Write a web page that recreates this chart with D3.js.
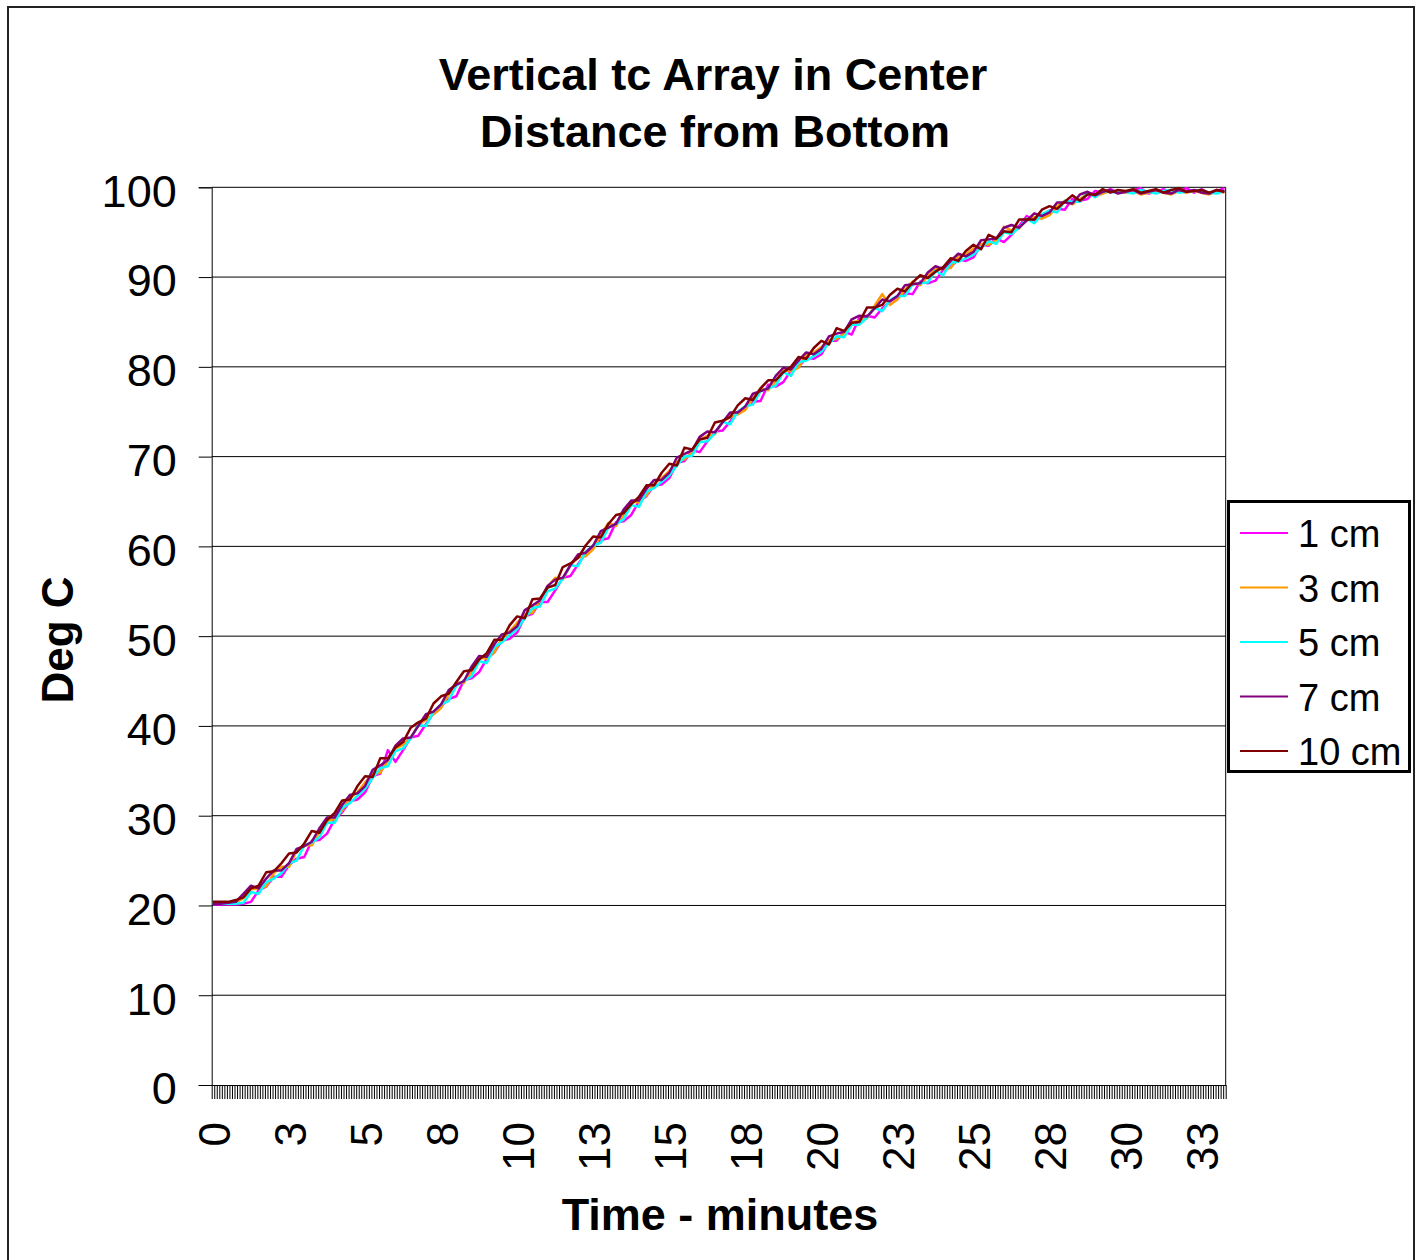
<!DOCTYPE html>
<html>
<head>
<meta charset="utf-8">
<script src="https://cdn.jsdelivr.net/npm/d3@7"></script>
<style>
  body { margin: 0; background: #fff; }
  text { font-family: "Liberation Sans", Arial, sans-serif; fill: #000; }
</style>
</head>
<body>
<div id="chart"></div>
<script>
// Sample times (minutes), one reading every 15 s
var minutes = [
  0,0.25,0.5,0.75,1,1.25,1.5,1.75,2,2.25,
  2.5,2.75,3,3.25,3.5,3.75,4,4.25,4.5,4.75,
  5,5.25,5.5,5.75,6,6.25,6.5,6.75,7,7.25,
  7.5,7.75,8,8.25,8.5,8.75,9,9.25,9.5,9.75,
  10,10.25,10.5,10.75,11,11.25,11.5,11.75,12,12.25,
  12.5,12.75,13,13.25,13.5,13.75,14,14.25,14.5,14.75,
  15,15.25,15.5,15.75,16,16.25,16.5,16.75,17,17.25,
  17.5,17.75,18,18.25,18.5,18.75,19,19.25,19.5,19.75,
  20,20.25,20.5,20.75,21,21.25,21.5,21.75,22,22.25,
  22.5,22.75,23,23.25,23.5,23.75,24,24.25,24.5,24.75,
  25,25.25,25.5,25.75,26,26.25,26.5,26.75,27,27.25,
  27.5,27.75,28,28.25,28.5,28.75,29,29.25,29.5,29.75,
  30,30.25,30.5,30.75,31,31.25,31.5,31.75,32,32.25,
  32.5,32.75,33,33.25
];

var seriesNames = ['1 cm', '3 cm', '5 cm', '7 cm', '10 cm'];
var seriesColors = ['#ff00ff', '#ff9900', '#00ffff', '#800080', '#800000'];

var temp1cm = [
  20.1,20.1,20.1,20.1,20.2,20.4,21.7,22.1,23.2,23.2,
  24.5,25.2,25.4,27.2,27.3,28.0,29.6,30.4,31.6,31.8,
  32.6,34.4,34.7,37.3,36.0,37.3,38.7,38.9,40.2,41.4,
  42.2,43.0,43.3,45.1,45.3,46.0,47.5,48.2,49.5,49.7,
  50.4,52.2,52.5,53.8,53.8,55.1,56.5,56.7,58.0,59.2,
  59.9,60.7,60.9,62.7,62.8,63.5,65.0,65.6,66.8,66.9,
  67.6,69.3,69.5,70.7,70.5,71.7,72.8,72.9,73.9,75.0,
  75.5,76.1,76.2,78.0,77.8,78.3,79.6,80.0,81.0,80.9,
  81.4,82.9,82.9,83.9,83.6,85.5,85.7,85.5,86.5,87.3,
  87.8,88.2,88.1,89.5,89.3,89.6,90.8,91.1,92.0,91.8,
  92.2,93.6,93.5,94.3,93.9,94.7,95.7,96.8,96.3,96.9,
  97.4,97.6,97.5,98.7,98.5,98.7,99.6,99.4,99.8,99.4,
  99.4,99.7,99.9,99.3,99.5,99.8,99.3,99.6,99.9,99.4,
  99.8,99.3,99.6,99.9
];
var temp3cm = [
  20.3,20.3,20.2,20.3,20.8,21.8,21.9,22.1,23.6,24.3,
  24.3,26.1,26.7,26.7,28.2,29.4,29.6,30.6,31.9,32.6,
  33.7,34.6,34.8,36.1,37.5,37.9,38.7,40.1,40.7,41.3,
  42.0,43.5,44.8,44.8,46.0,47.6,47.5,48.2,49.8,50.5,
  51.5,52.4,52.6,54.0,55.5,56.5,56.3,57.9,58.8,58.9,
  59.7,61.3,62.6,62.3,63.5,65.0,64.9,65.7,67.0,67.6,
  68.4,69.4,69.7,70.5,71.9,72.3,72.5,73.9,74.4,74.7,
  75.2,76.5,77.6,77.4,78.4,79.6,79.5,79.9,81.4,81.6,
  82.2,83.0,83.1,83.7,85.0,85.1,85.4,86.8,88.1,86.9,
  87.5,88.6,89.5,89.1,90.1,90.9,90.9,91.0,92.3,92.5,
  93.2,93.7,93.6,94.1,95.6,95.2,95.4,96.5,96.7,96.5,
  96.9,97.9,98.5,98.1,98.7,99.3,99.0,99.3,99.6,99.4,
  99.4,99.6,99.2,99.4,99.6,99.4,99.2,99.6,99.4,99.6,
  99.4,99.2,99.6,99.4
];
var temp5cm = [
  20.2,20.2,20.2,20.2,20.3,21.5,21.3,22.6,23.0,23.6,
  24.7,25.0,26.7,27.0,27.6,29.2,29.2,30.9,31.4,32.2,
  33.0,34.2,35.3,35.5,37.2,37.5,38.6,40.1,40.0,41.6,
  42.4,42.8,44.5,45.0,45.5,47.2,47.0,48.8,49.3,50.1,
  50.8,52.0,53.1,53.3,55.0,55.3,56.4,57.9,57.8,59.4,
  60.1,60.4,62.1,62.5,63.0,64.6,64.4,66.1,66.5,67.2,
  67.9,69.0,70.0,70.1,71.6,71.7,72.6,73.9,73.6,75.0,
  75.6,75.8,77.3,77.6,77.9,79.4,79.0,80.5,80.7,81.2,
  81.7,82.6,83.4,83.3,84.7,84.7,85.5,86.6,86.2,87.4,
  87.9,87.9,89.2,89.3,89.4,90.7,90.2,91.6,91.7,92.1,
  92.5,93.3,94.0,93.7,95.0,94.8,95.5,96.5,96.0,97.0,
  97.4,97.2,98.5,98.4,98.4,99.4,98.9,99.6,99.5,99.4,
  99.5,99.3,99.7,99.5,99.3,99.6,99.7,99.4,99.5,99.6,
  99.7,99.4,99.3,99.6
];
var temp7cm = [
  20.2,20.2,20.3,20.4,21.3,22.2,21.9,23.0,23.9,23.9,
  24.7,26.3,26.6,27.1,28.6,29.8,29.8,31.2,32.3,32.5,
  33.3,35.1,35.6,36.2,37.8,38.6,38.7,40.0,41.3,41.6,
  42.4,44.0,44.6,45.0,46.6,47.8,47.7,49.1,50.2,50.4,
  51.1,52.9,53.4,54.0,55.6,56.3,56.5,57.9,59.1,59.3,
  60.1,61.7,62.1,62.5,64.1,65.1,65.1,66.4,67.4,67.4,
  68.2,69.9,70.3,70.7,72.2,72.8,72.7,73.8,74.9,74.9,
  75.6,77.0,77.3,77.6,79.0,79.9,79.7,80.7,81.6,81.4,
  82.0,83.4,83.7,83.9,85.3,85.7,85.6,86.5,87.5,87.3,
  87.9,89.1,89.2,89.3,90.5,91.2,90.9,91.8,92.6,92.3,
  92.8,94.1,94.2,94.3,95.5,95.8,95.5,96.3,97.1,96.8,
  97.2,98.3,98.3,98.2,99.2,99.5,99.1,99.5,99.7,99.3,
  99.5,99.7,99.3,99.5,99.7,99.4,99.3,99.7,99.5,99.7,
  99.4,99.3,99.7,99.5
];
var temp10cm = [
  20.4,20.4,20.4,20.6,20.9,21.9,22.2,23.7,23.8,24.7,
  25.8,25.9,26.9,28.3,28.1,29.5,30.3,31.7,31.8,33.3,
  34.4,34.3,36.4,36.4,37.6,38.2,39.8,40.4,40.8,42.5,
  43.3,43.6,44.9,46.1,46.2,47.4,48.1,49.6,49.6,51.2,
  52.2,52.0,54.1,54.2,55.4,55.7,57.7,58.1,58.7,60.1,
  61.1,61.0,62.5,63.5,63.7,64.7,65.5,66.8,66.8,68.2,
  69.2,69.0,71.0,70.8,71.9,72.1,73.8,74.0,74.4,75.7,
  76.5,76.3,77.6,78.5,78.5,79.4,80.0,81.1,80.9,82.1,
  82.9,82.5,84.3,84.0,84.9,85.0,86.6,86.6,86.9,88.0,
  88.7,88.4,89.4,90.2,89.9,90.6,91.1,92.1,91.8,92.9,
  93.6,93.1,94.7,94.3,95.1,95.0,96.4,96.4,96.4,97.5,
  97.9,97.6,98.4,99.1,98.5,99.2,99.2,99.8,99.4,99.7,
  99.6,99.8,99.4,99.6,99.8,99.4,99.7,99.9,99.5,99.6,
  99.7,99.4,99.7,99.5
];
var seriesValues = [temp1cm, temp3cm, temp5cm, temp7cm, temp10cm];

var yTicks = [0, 10, 20, 30, 40, 50, 60, 70, 80, 90, 100];
var xLabelMinutes = [0, 2.5, 5, 7.5, 10, 12.5, 15, 17.5, 20, 22.5, 25, 27.5, 30, 32.5];
var xLabels = ['0', '3', '5', '8', '10', '13', '15', '18', '20', '23', '25', '28', '30', '33'];

// Category axis: 400 logged points, 5 s apart
var categoryCount = 400;
var categoryStep = 5 / 60;

var svgWidth = 1419;
var svgHeight = 1260;
var margin = { top: 187.3, right: 1419 - 1225.7, bottom: 1260 - 1085, left: 211.7 };
var chartWidth = svgWidth - margin.left - margin.right;
var chartHeight = svgHeight - margin.top - margin.bottom;

var svg = d3.select('#chart')
  .append('svg')
  .attr('width', svgWidth)
  .attr('height', svgHeight);

// Outer chart border
svg.append('rect')
  .attr('x', 8).attr('y', 7)
  .attr('width', 1406).attr('height', 1270)
  .attr('fill', 'none')
  .attr('stroke', '#222')
  .attr('stroke-width', 2);

var chartGroup = svg.append('g')
  .attr('transform', `translate(${margin.left}, ${margin.top})`);

var xScale = d3.scaleLinear()
  .domain([-categoryStep / 2, (categoryCount - 1) * categoryStep + categoryStep / 2])
  .range([0, chartWidth]);

var yScale = d3.scaleLinear()
  .domain([0, 100])
  .range([chartHeight, 0]);

// Gridlines
chartGroup.append('g')
  .selectAll('line')
  .data(yTicks.slice(1))
  .enter()
  .append('line')
  .attr('x1', 0).attr('x2', chartWidth)
  .attr('y1', d => yScale(d)).attr('y2', d => yScale(d))
  .attr('stroke', '#000')
  .attr('stroke-width', 1);

// Right border of plot area
chartGroup.append('line')
  .attr('x1', chartWidth).attr('x2', chartWidth)
  .attr('y1', 0).attr('y2', chartHeight)
  .attr('stroke', '#000');

// Y axis
var yAxis = d3.axisLeft(yScale)
  .tickValues(yTicks)
  .tickSize(13)
  .tickPadding(22)
  .tickFormat(d3.format('d'));

var yAxisGroup = chartGroup.append('g').call(yAxis);
yAxisGroup.select('.domain').attr('stroke', '#000');
yAxisGroup.selectAll('.tick line').attr('stroke', '#000');
yAxisGroup.selectAll('text')
  .attr('font-size', 45)
  .attr('dy', '0.42em')
  .style('font-family', '"Liberation Sans", Arial, sans-serif');

// X axis: one tick mark per category boundary
var boundaries = d3.range(categoryCount + 1).map(i => (i - 0.5) * categoryStep);
var xAxis = d3.axisBottom(xScale)
  .tickValues(boundaries)
  .tickSize(14)
  .tickSizeOuter(0)
  .tickFormat('');

var xAxisGroup = chartGroup.append('g')
  .attr('transform', `translate(0, ${chartHeight})`)
  .call(xAxis);
xAxisGroup.select('.domain').attr('stroke', '#000');
xAxisGroup.selectAll('.tick line').attr('stroke', '#000').attr('stroke-width', 1);

// Rotated x labels
chartGroup.append('g')
  .selectAll('text')
  .data(xLabelMinutes)
  .enter()
  .append('text')
  .attr('transform', d => `translate(${xScale(d) + 1}, ${chartHeight + 37}) rotate(-90)`)
  .attr('dy', '0.36em')
  .attr('text-anchor', 'end')
  .attr('font-size', 44)
  .text((d, i) => xLabels[i]);

// Series lines
var line = d3.line()
  .x((d, i) => xScale(minutes[i]))
  .y(d => yScale(d));

chartGroup.append('g')
  .selectAll('path')
  .data(seriesValues)
  .enter()
  .append('path')
  .attr('d', d => line(d))
  .attr('fill', 'none')
  .attr('stroke', (d, i) => seriesColors[i])
  .attr('stroke-width', 2.5)
  .attr('stroke-linejoin', 'round');

// Titles
svg.append('text')
  .attr('x', 713).attr('y', 90)
  .attr('text-anchor', 'middle')
  .attr('font-size', 45)
  .attr('font-weight', 'bold')
  .text('Vertical tc Array in Center');

svg.append('text')
  .attr('x', 715).attr('y', 147)
  .attr('text-anchor', 'middle')
  .attr('font-size', 45)
  .attr('font-weight', 'bold')
  .text('Distance from Bottom');

svg.append('text')
  .attr('x', 720).attr('y', 1230)
  .attr('text-anchor', 'middle')
  .attr('font-size', 45)
  .attr('font-weight', 'bold')
  .text('Time - minutes');

svg.append('text')
  .attr('transform', 'translate(73, 640) rotate(-90)')
  .attr('text-anchor', 'middle')
  .attr('font-size', 44)
  .attr('font-weight', 'bold')
  .text('Deg C');

// Legend
var legend = svg.append('g');
legend.append('rect')
  .attr('x', 1228.5).attr('y', 501.5)
  .attr('width', 181).attr('height', 270)
  .attr('fill', '#fff')
  .attr('stroke', '#000')
  .attr('stroke-width', 3);

var legendItems = legend.selectAll('g.item')
  .data(seriesNames)
  .enter()
  .append('g')
  .attr('class', 'item')
  .attr('transform', (d, i) => `translate(0, ${533 + i * 54.5})`);

legendItems.append('line')
  .attr('x1', 1240).attr('x2', 1288)
  .attr('y1', 0).attr('y2', 0)
  .attr('stroke', (d, i) => seriesColors[i])
  .attr('stroke-width', 2);

legendItems.append('text')
  .attr('x', 1298).attr('y', 14)
  .attr('font-size', 38)
  .text(d => d);
</script>
</body>
</html>
